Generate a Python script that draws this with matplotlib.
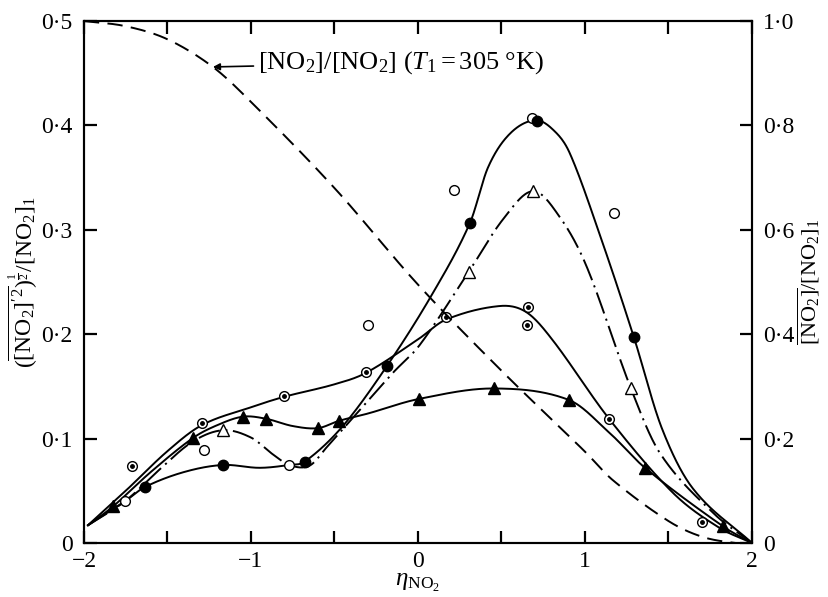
import numpy as np
import matplotlib
matplotlib.use("Agg")
import matplotlib.pyplot as plt

plt.rcParams["font.family"] = ["Liberation Serif", "DejaVu Serif"]
plt.rcParams["mathtext.fontset"] = "custom"
plt.rcParams["mathtext.rm"] = "Liberation Serif"
plt.rcParams["mathtext.it"] = "Liberation Serif:italic"
plt.rcParams["mathtext.bf"] = "Liberation Serif:bold"
plt.rcParams["lines.scale_dashes"] = False

# ---- measured points (left axis) ----
open_circ_x = [-1.754, -1.281, -0.772, -0.299, 0.216, 0.683, 1.174]
open_circ_y = [0.040, 0.089, 0.0747, 0.209, 0.338, 0.407, 0.316]

fill_circ_x = [-1.635, -1.168, -0.677, -0.186, 0.311, 0.713, 1.293]
fill_circ_y = [0.0536, 0.0747, 0.0776, 0.1695, 0.3065, 0.404, 0.197]

open_tri_x = [-1.168, 0.305, 0.689, 1.275]
open_tri_y = [0.108, 0.260, 0.337, 0.148]

fill_tri_x = [-1.826, -1.347, -1.048, -0.910, -0.599, -0.473, 0.006, 0.455, 0.904, 1.359, 1.826]
fill_tri_y = [0.035, 0.1006, 0.121, 0.119, 0.110, 0.117, 0.138, 0.148, 0.137, 0.072, 0.016]

dot_circ_x = [-1.713, -1.293, -0.802, -0.311, 0.168, 0.659, 0.653, 1.144, 1.700]
dot_circ_y = [0.074, 0.115, 0.141, 0.164, 0.2165, 0.226, 0.209, 0.119, 0.020]

# ---- faired curves through the data (knots) ----
curve_fill_circ_x = [-1.976, -1.754, -1.635, -1.40, -1.168, -0.95, -0.772, -0.677, -0.45, -0.186,
                     0.084, 0.311, 0.42, 0.55, 0.70, 0.808, 0.91, 1.10, 1.293, 1.46, 1.647, 2.0]
curve_fill_circ_y = [0.017, 0.040, 0.0536, 0.068, 0.0747, 0.072, 0.0747, 0.078, 0.112, 0.1695,
                     0.238, 0.3065, 0.360, 0.392, 0.405, 0.396, 0.373, 0.290, 0.197, 0.110, 0.052, 0.0]

curve_open_tri_x = [-1.976, -1.754, -1.55, -1.35, -1.168, -1.0, -0.87, -0.772, -0.65, -0.545,
                    -0.15, 0.012, 0.305, 0.509, 0.689, 0.85, 1.012, 1.275, 1.449, 1.766, 2.0]
curve_open_tri_y = [0.017, 0.040, 0.070, 0.097, 0.108, 0.101, 0.085, 0.0747, 0.074, 0.092,
                    0.163, 0.190, 0.260, 0.310, 0.337, 0.312, 0.264, 0.148, 0.086, 0.029, 0.0]

curve_dot_circ_x = [-1.976, -1.75, -1.5, -1.293, -1.0, -0.802, -0.5, -0.311, 0.0, 0.168,
                    0.491, 0.65, 0.808, 1.144, 1.527, 1.8, 2.0]
curve_dot_circ_y = [0.017, 0.050, 0.088, 0.113, 0.130, 0.140, 0.152, 0.163, 0.195, 0.214,
                    0.227, 0.221, 0.194, 0.119, 0.048, 0.015, 0.0]

curve_fill_tri_x = [-1.976, -1.826, -1.6, -1.347, -1.2, -1.048, -0.91, -0.75, -0.599, -0.473,
                    -0.3, 0.006, 0.455, 0.904, 1.15, 1.359, 1.826, 2.0]
curve_fill_tri_y = [0.017, 0.035, 0.068, 0.1006, 0.113, 0.121, 0.119, 0.112, 0.110, 0.117,
                    0.124, 0.138, 0.148, 0.137, 0.105, 0.072, 0.016, 0.0]

# ---- mean concentration profile (right axis) ----
mean_x = [-2.0, -1.75, -1.5, -1.228, -1.0, -0.5, 0.0, 0.5, 1.0, 1.168, 1.5, 1.7, 1.9, 2.0]
mean_y = [1.0, 0.99, 0.965, 0.912, 0.845, 0.68, 0.495, 0.33, 0.175, 0.12, 0.042, 0.012, 0.0, 0.0]

x_ticks = [-2, -1, 0, 1, 2]
x_labels = ["\u22122", "\u22121", "0", "1", "2"]
left_ticks = [0, 0.1, 0.2, 0.3, 0.4, 0.5]
left_labels = ["0", "0\u00b71", "0\u00b72", "0\u00b73", "0\u00b74", "0\u00b75"]
right_ticks = [0, 0.2, 0.4, 0.6, 0.8, 1.0]
right_labels = ["0", "0\u00b72", "0\u00b74", "0\u00b76", "0\u00b78", "1\u00b70"]


def cardinal(x, y, xs):
    """Cubic Hermite curve with centred finite-difference tangents."""
    x = np.asarray(x, float)
    y = np.asarray(y, float)
    n = len(x)
    h = np.diff(x)
    m = np.zeros(n)
    m[0] = (y[1] - y[0]) / h[0]
    m[-1] = (y[-1] - y[-2]) / h[-1]
    for k in range(1, n - 1):
        m[k] = (y[k + 1] - y[k - 1]) / (x[k + 1] - x[k - 1])
    idx = np.clip(np.searchsorted(x, xs) - 1, 0, n - 2)
    t = (xs - x[idx]) / h[idx]
    h00 = 2 * t**3 - 3 * t**2 + 1
    h10 = t**3 - 2 * t**2 + t
    h01 = -2 * t**3 + 3 * t**2
    h11 = t**3 - t**2
    return h00 * y[idx] + h10 * h[idx] * m[idx] + h01 * y[idx + 1] + h11 * h[idx] * m[idx + 1]


def smooth(xk, yk):
    xs = np.linspace(xk[0], xk[-1], 800)
    return xs, cardinal(xk, yk, xs)


fig = plt.figure(figsize=(8.29, 5.97), dpi=100)
ax = fig.add_axes([0.1013, 0.0905, 0.8058, 0.8743])
ax2 = ax.twinx()

lw = 1.4
k = "black"

ax.plot(*smooth(curve_fill_circ_x, curve_fill_circ_y), color=k, lw=lw)
ax.plot(*smooth(curve_dot_circ_x, curve_dot_circ_y), color=k, lw=lw)
ax.plot(*smooth(curve_fill_tri_x, curve_fill_tri_y), color=k, lw=lw)
ax.plot(*smooth(curve_open_tri_x, curve_open_tri_y), color=k, lw=lw, dashes=(16, 4, 1.5, 4))

ax2.plot(*smooth(mean_x, mean_y), color=k, lw=lw, dashes=(11, 6))

ms = 7.5
ax.plot(open_circ_x, open_circ_y, "o", ms=ms - 0.5, mfc="white", mec=k, mew=1.0, zorder=5)
ax.plot(fill_circ_x, fill_circ_y, "o", ms=ms, mfc=k, mec=k, zorder=5)
ax.plot(open_tri_x, open_tri_y, "^", ms=ms + 0.5, mfc="white", mec=k, mew=1.0, zorder=5)
ax.plot(fill_tri_x, fill_tri_y, "^", ms=ms + 0.5, mfc=k, mec=k, zorder=5)
ax.plot(dot_circ_x, dot_circ_y, "o", ms=ms - 0.5, mfc="white", mec=k, mew=1.0, zorder=5)
ax.plot(dot_circ_x, dot_circ_y, "o", ms=2.5, mfc=k, mec=k, zorder=6)

ax.set_xlim(-2, 2)
ax.set_ylim(0, 0.5)
ax2.set_ylim(0, 1.0)

tick_pos = np.arange(-2, 2.01, 0.5)
ax.set_xticks(tick_pos)
ax.set_xticklabels([x_labels[x_ticks.index(int(v))] if float(v).is_integer() else ""
                    for v in tick_pos])
ax.set_yticks(left_ticks)
ax.set_yticklabels(left_labels)
ax2.set_yticks(right_ticks)
ax2.set_yticklabels(right_labels)

fs = 17
ax.tick_params(axis="both", direction="in", length=9, width=1.6, labelsize=fs,
               top=True, pad=6)
ax.tick_params(axis="y", pad=8)
ax2.tick_params(axis="y", direction="in", length=9, width=1.6, labelsize=fs, pad=8)
for a in (ax, ax2):
    for s in a.spines.values():
        s.set_linewidth(1.5)

ax.set_xlabel(r"$\eta_{\mathrm{NO_2}}$", fontsize=18, labelpad=0)
ax.set_ylabel(r"$(\overline{[\mathrm{NO_2}]'^{2}})^{\frac{1}{2}}/[\mathrm{NO_2}]_1$",
              fontsize=17, labelpad=2)
ax2.set_ylabel(r"$\overline{[\mathrm{NO_2}]}/[\mathrm{NO_2}]_1$", fontsize=16,
               rotation=90, labelpad=1)

ax2.annotate(r"$[\mathrm{NO_2}]/[\mathrm{NO_2}]\ (T_1 = 305\ $°$\mathrm{K})$",
             xy=(-1.228, 0.912), xytext=(-0.96, 0.92), fontsize=19,
             va="center", ha="left",
             arrowprops=dict(arrowstyle="-|>", color=k, lw=1.2, mutation_scale=10,
                             shrinkA=1, shrinkB=0))

fig.savefig("out.png", dpi=100)
